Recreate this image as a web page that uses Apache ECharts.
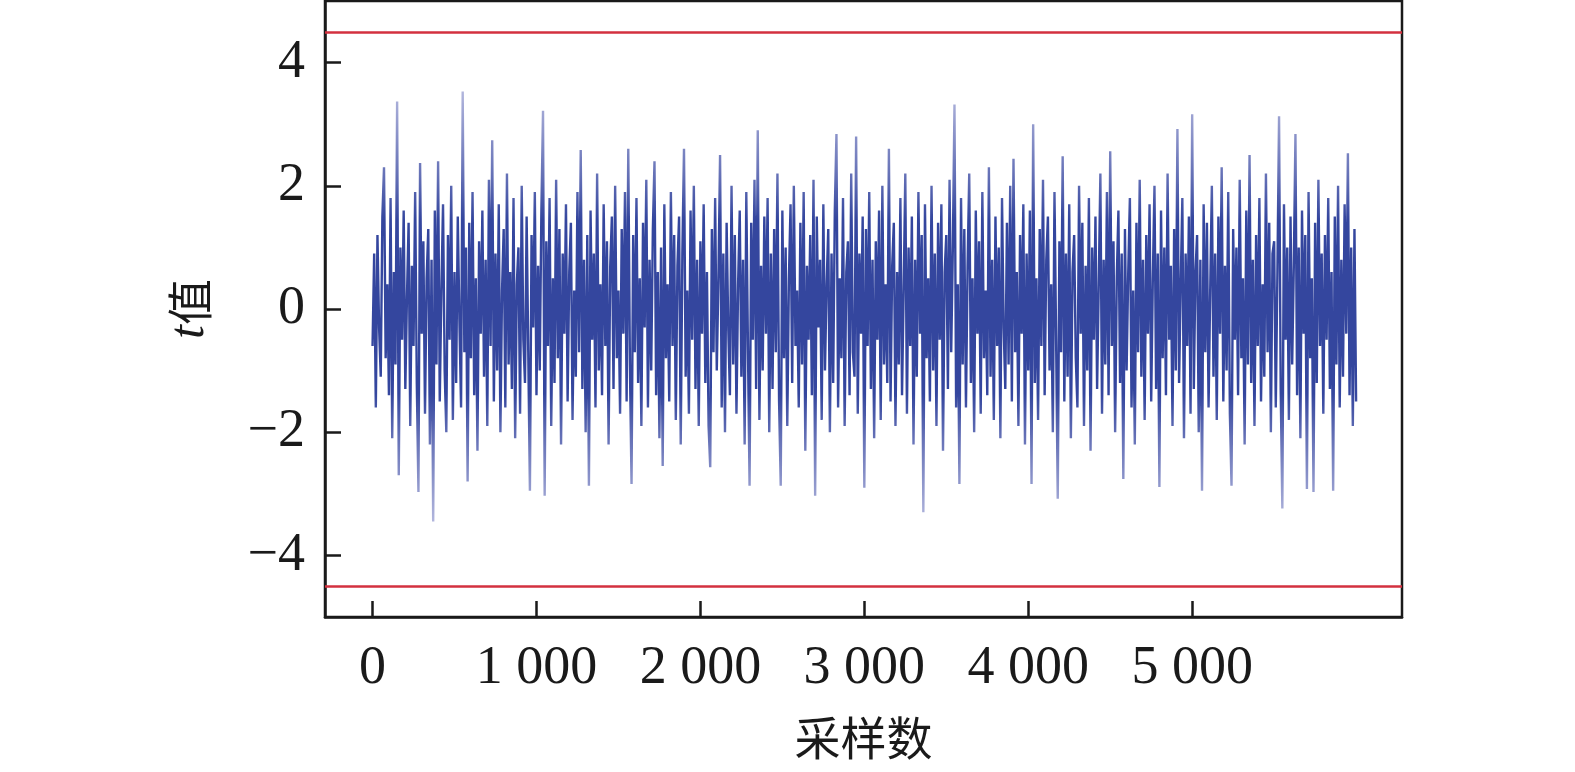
<!DOCTYPE html>
<html lang="zh">
<head>
<meta charset="UTF-8">
<title>t值 - 采样数</title>
<style>
  html, body { margin: 0; padding: 0; background: #fff; overflow: hidden; }
  #chart { width: 1575px; height: 772px; }
</style>
</head>
<body>
<div id="chart"></div>
<script src="https://cdn.jsdelivr.net/npm/echarts@6/dist/echarts.min.js"></script>
<script>
// 采样间隔（每个点代表的采样数）
const sampleStep = 10;
// t 值，按采样顺序读取
const tValues = [
  -0.6, 0.9, -1.6, 1.2, -0.3, -1.1, 1.5, 2.3, -0.8, 0.4, -1.4, 1.8, -2.1, 0.6, -0.9, 3.37, -2.7, 1.0, -0.5, 1.6,
  -1.3, 0.2, 1.4, -1.9, 0.7, -0.6, 1.9, -1.2, -2.97, 2.37, -0.4, 1.1, -1.7, 0.5, 1.3, -2.2, 0.8, -3.45, 1.6, -0.9,
  2.4, -1.5, 0.3, 1.7, -1.0, -2.0, 1.2, -0.5, 2.0, -1.8, 0.6, -1.2, 1.5, -0.2, -1.6, 3.53, -0.7, 1.0, -2.8, 1.4,
  -0.8, 1.9, -1.4, 0.5, -2.3, 1.1, -0.4, 1.6, -1.1, 0.8, -1.9, 2.1, -0.6, 2.74, -1.5, 0.9, -1.0, 1.7, -2.0, 0.3,
  1.3, -1.6, 2.2, -0.9, 0.6, -1.3, 1.8, -2.1, 0.4, 1.0, -1.7, 2.0, -0.5, -1.2, 1.5, -0.7, -2.95, 1.2, -0.3, 1.9,
  -1.4, 0.7, -1.0, 1.6, 3.22, -3.03, 1.1, -0.6, 1.8, -1.9, 0.5, -1.2, 2.1, -0.8, 1.3, -2.2, 0.9, -0.4, 1.7, -1.5,
  0.6, 1.4, -1.8, 0.3, -1.1, 1.9, -0.7, 2.58, -1.3, 0.8, -2.0, 1.2, -2.87, 1.6, -0.5, 0.9, -1.6, 2.2, -1.0, 0.4,
  -1.4, 1.7, -0.6, 1.1, -2.2, 0.7, 1.5, -1.3, 2.0, -0.8, 0.3, -1.7, 1.3, -0.4, 1.9, -1.5, 2.6, -0.9, -2.84, 1.2,
  -0.7, 1.8, -1.2, 0.5, -1.9, 1.4, -0.3, 2.1, -1.6, 0.8, -1.0, 1.3, 2.4, -1.4, 0.6, -2.1, 1.0, -2.55, 1.7, -0.8,
  0.4, -1.5, 1.9, -0.6, 1.2, -1.8, 0.7, 1.5, -2.2, 0.9, 2.6, -1.1, 0.3, -1.7, 1.6, -0.5, 2.0, -1.3, 0.8, -1.9,
  1.1, -0.4, 1.7, -1.2, 0.6, -1.9, -2.57, 1.3, -0.7, 1.8, -1.0, 0.5, 2.5, -1.6, 0.9, -2.0, 1.4, -0.3, -1.4, 2.0,
  -0.9, 1.2, -1.7, 0.4, 1.6, -1.1, 0.8, -2.2, 1.9, -0.6, -2.87, 1.4, -0.5, 2.1, -1.3, 2.9, -1.8, 0.7, -1.0, 1.5,
  -0.4, 1.8, -2.0, 0.9, -1.3, 1.3, -0.7, 2.2, -1.5, -2.87, 1.6, -0.8, 1.0, -1.9, 0.5, 1.7, -1.2, 2.0, -0.6, 0.3,
  -1.6, 1.4, -0.9, 1.9, -2.3, 0.7, -0.5, 1.2, -1.4, 2.1, -3.03, 1.5, -0.3, 0.8, -1.8, 1.7, -1.0, 0.4, 1.3, -2.0,
  0.9, -1.2, 1.6, 2.84, -1.6, 0.5, -0.8, 1.8, -1.9, 0.6, 1.1, -1.4, 2.2, -0.7, -1.1, 2.8, -1.7, 0.9, -0.4, 1.5,
  -2.9, 1.3, -0.6, 1.9, -1.3, 0.8, -2.1, 1.1, -0.5, 1.6, -1.8, 2.0, -0.9, 0.4, -1.2, 2.6, -1.5, 0.7, 1.4, -1.9,
  0.6, -0.9, 1.8, -1.4, 0.3, 2.2, -1.7, 1.0, -0.6, 1.5, -2.2, 0.8, -1.1, 1.9, -0.4, 1.2, -3.3, 1.7, -0.8, 0.5,
  -1.5, 2.0, -1.0, 0.9, -1.9, 1.4, -0.5, 1.7, -2.3, 0.6, 1.2, -1.3, 2.1, -0.7, 1.0, 3.32, -1.6, 0.4, -2.84, 1.8,
  -0.9, 1.3, -1.6, 0.7, 2.2, -1.2, 0.5, -2.0, 1.6, -0.4, 1.1, -1.7, 1.9, -0.8, 0.3, -1.4, 2.3, -1.1, 0.8, -1.8,
  1.5, -0.6, 1.0, -2.1, 1.8, -0.3, -1.3, 1.4, -0.9, 2.0, -1.5, 2.44, -0.7, 0.6, -1.9, 1.2, -0.4, 1.7, -2.2, 0.9,
  -1.0, 1.6, -2.84, 3.0, -1.2, 0.5, -1.8, 1.3, -0.6, 2.1, -1.4, 0.8, 1.5, -1.0, 0.4, -2.0, 1.9, -0.5, -3.08, 1.1,
  -0.7, 2.48, -1.5, 0.9, -1.1, 1.7, -2.1, 0.6, 1.2, -0.8, -1.6, 2.0, -0.4, 1.4, -1.9, 0.7, -1.0, 1.8, -2.3, 1.0,
  -0.5, 1.5, -1.3, 0.4, 2.2, -1.7, 0.8, -0.9, 1.9, -1.4, 2.56, -0.6, 1.1, -2.0, 0.5, 1.6, -1.2, 0.9, -2.76, 1.3,
  -1.0, 0.6, 1.8, -1.6, 0.3, -2.2, 1.4, -0.7, 2.1, -1.1, 0.8, -1.8, 1.2, -0.4, 1.7, -1.5, 0.5, 2.0, -1.3, 0.9,
  -2.89, 1.6, -0.8, 1.0, -1.4, 2.2, -0.5, 0.7, -1.9, 1.3, -1.0, 2.92, -1.2, 0.4, 1.8, -2.1, 0.9, -0.6, 1.5, -1.7,
  3.16, -1.3, 0.6, 1.2, -2.0, 0.8, -2.95, 1.7, -0.7, 1.4, -1.6, 0.3, 2.0, -1.1, 0.9, -1.8, 1.5, -0.4, 2.3, -1.5,
  0.7, -1.0, 1.9, -1.7, -2.87, 1.3, -0.5, 1.0, -1.4, 2.1, -0.8, 0.5, -2.2, 1.6, -0.9, 2.5, -1.2, 0.8, -1.9, 1.2,
  -0.6, 1.8, -1.5, 0.4, -1.1, 2.2, -0.7, 1.4, -2.0, 0.9, 1.1, -1.6, 0.6, 3.13, -1.3, -3.24, 1.7, -0.5, 1.0, -1.8,
  1.5, -0.9, 0.7, 2.84, -1.4, 1.0, -2.1, 1.6, -0.4, 1.2, -2.92, 1.9, -0.8, 0.5, -2.97, 1.4, -1.2, 2.1, -0.6, 0.9,
  -1.7, 1.2, -0.5, 1.8, -1.3, 0.6, -2.95, 1.5, -0.9, 2.0, -1.6, 0.8, -1.1, 1.7, -0.4, 2.53, -1.4, 1.0, -1.9, 1.3,
  -1.5
];
// 控制限 ±4.5
const limits = [4.5, -4.5];
// 刻度
const xTicks = [0, 1000, 2000, 3000, 4000, 5000];
const yTicks = [-4, -2, 0, 2, 4];

const myChart = echarts.init(document.getElementById('chart'));

const seriesData = tValues.map((v, i) => [i * sampleStep, v]);
const serif = '"Liberation Serif", "Times New Roman", serif';

const option = {
  animation: false,
  backgroundColor: '#fff',
  grid: {
    left: 325, top: 1, right: 173, bottom: 155,
    outerBoundsMode: 'none',
    containLabel: false,
    show: true, borderColor: '#1a1a1a', borderWidth: 2.5, backgroundColor: 'transparent'
  },
  xAxis: {
    type: 'value',
    min: -290, max: 6280,
    name: '采样数',
    nameLocation: 'middle',
    nameGap: 98,
    nameTextStyle: { fontFamily: '"Noto Sans CJK SC"', fontSize: 46, color: '#1a1a1a' },
    axisLine: { show: true, onZero: false, lineStyle: { color: '#1a1a1a', width: 2.5 } },
    axisTick: { show: true, inside: true, length: 16, customValues: xTicks, lineStyle: { color: '#1a1a1a', width: 2.5 } },
    axisLabel: {
      customValues: xTicks,
      margin: 25,
      fontFamily: serif, fontSize: 54, color: '#1a1a1a',
      formatter: v => String(v).replace(/\B(?=(\d{3})+(?!\d))/g, ' ')
    },
    splitLine: { show: false }
  },
  yAxis: {
    type: 'value',
    min: -5, max: 5,
    name: '{it|t}值',
    nameLocation: 'middle',
    nameGap: 110,
    nameRotate: 90,
    nameTextStyle: {
      fontFamily: '"Noto Sans CJK SC"', fontSize: 46, color: '#1a1a1a',
      rich: { it: { fontFamily: serif, fontStyle: 'italic', fontSize: 50, color: '#1a1a1a' } }
    },
    axisLine: { show: true, onZero: false, lineStyle: { color: '#1a1a1a', width: 2.5 } },
    axisTick: { show: true, inside: true, length: 16, customValues: yTicks, lineStyle: { color: '#1a1a1a', width: 2.5 } },
    axisLabel: {
      customValues: yTicks,
      margin: 20,
      fontFamily: serif, fontSize: 54, color: '#1a1a1a',
      formatter: v => String(v).replace('-', '\u2212')
    },
    splitLine: { show: false }
  },
  series: [{
    type: 'line',
    data: seriesData,
    symbol: 'none',
    silent: true,
    lineStyle: {
      width: 2.4,
      join: 'bevel',
      color: new echarts.graphic.LinearGradient(0, 0, 0, 1, [
        { offset: 0, color: '#b4b8de' },
        { offset: 0.2, color: '#6470b6' },
        { offset: 0.3, color: '#34469e' },
        { offset: 0.7, color: '#34469e' },
        { offset: 0.8, color: '#6470b6' },
        { offset: 1, color: '#b4b8de' }
      ])
    },
    markLine: {
      silent: true,
      symbol: 'none',
      label: { show: false },
      lineStyle: { color: '#d3303f', width: 2.5, type: 'solid' },
      data: limits.map(v => ({ yAxis: v }))
    }
  }]
};

myChart.setOption(option);
</script>
</body>
</html>
